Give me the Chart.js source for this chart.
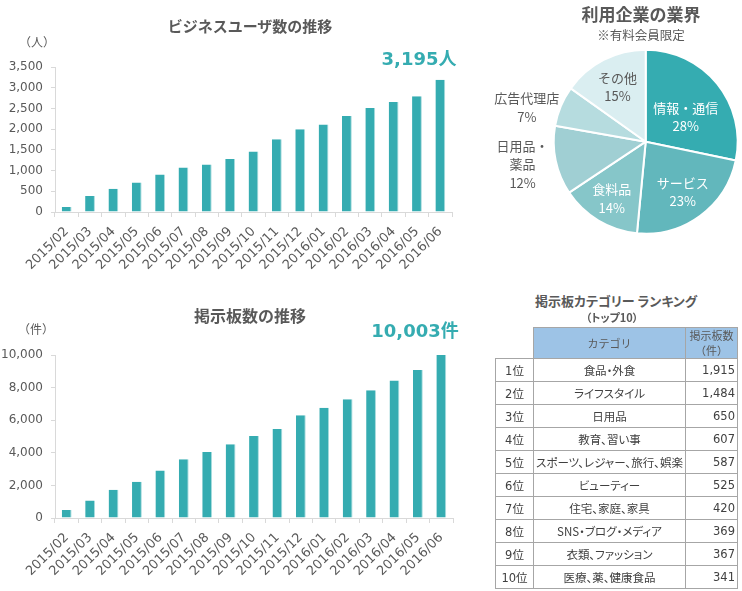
<!DOCTYPE html>
<html lang="ja">
<head>
<meta charset="utf-8">
<script src="https://cdn.jsdelivr.net/npm/chart.js@4.4.1/dist/chart.umd.min.js"></script>
<style>
body { margin: 0; background: #fff; font-family: "Noto Sans CJK JP", sans-serif; color: #595959; }
#page { position: relative; width: 742px; height: 591px; overflow: hidden; }
canvas { position: absolute; }
.txt { position: absolute; transform: translate(-50%, -50%); white-space: nowrap; line-height: 1; }
.title { font-weight: 700; color: #595959; }
.big { font-family: "DejaVu Sans", "Noto Sans CJK JP", sans-serif; font-weight: 700; font-size: 18px; color: #35acb1; }
#rank { position: absolute; left: 495px; top: 327px; border-collapse: collapse; table-layout: fixed; width: 242px;
  font-family: "DejaVu Sans", "Noto Sans CJK JP", sans-serif; color: #404040; }
#rank th, #rank td { border: 1px solid #a6a6a6; padding: 0; }
#rank th { background: #9dc3e6; height: 30px; font-weight: 400; font-size: 11px; line-height: 15px; color: #595959;
  font-family: "Noto Sans CJK JP", sans-serif; }
#rank th.blank { background: none; border: none; }
#rank td { height: 22px; font-size: 11.5px; text-align: center; }
#rank td.c { font-family: "Noto Sans CJK JP", sans-serif; font-feature-settings: "palt"; font-size: 11.5px; }
#rank td.n { text-align: right; padding-right: 2px; }
</style>
</head>
<body>
<div id="page">
  <canvas id="users" width="470" height="280" style="left:0;top:0"></canvas>
  <canvas id="boards" width="470" height="300" style="left:0;top:290px"></canvas>
  <canvas id="industry" width="272" height="250" style="left:470px;top:0"></canvas>

  <div class="txt title" style="left:250px;top:25px;font-size:15px">ビジネスユーザ数の推移</div>
  <div class="txt" style="left:37px;top:42px;font-size:12px">（人）</div>
  <div class="txt big" id="userTotal" style="left:419px;top:59px"></div>

  <div class="txt title" style="left:250px;top:315px;font-size:16px">掲示板数の推移</div>
  <div class="txt" style="left:36px;top:329px;font-size:12px">（件）</div>
  <div class="txt big" id="boardTotal" style="left:415px;top:331px"></div>

  <div class="txt title" style="left:641px;top:13px;font-size:17px">利用企業の業界</div>
  <div class="txt" style="left:641px;top:35px;font-size:12.5px">※有料会員限定</div>

  <div class="txt title" style="left:616px;top:300px;font-size:13px;font-feature-settings:'palt'">掲示板カテゴリー ランキング</div>
  <div class="txt title" style="left:612px;top:317px;font-size:11px;font-feature-settings:'palt'">（トップ10）</div>

  <table id="rank">
    <colgroup><col style="width:38px"><col style="width:152px"><col style="width:52px"></colgroup>
    <thead><tr><th class="blank"></th><th>カテゴリ</th><th>掲示板数<br>（件）</th></tr></thead>
    <tbody></tbody>
  </table>
</div>
<script>
const months = ['2015/02', '2015/03', '2015/04', '2015/05', '2015/06', '2015/07', '2015/08', '2015/09',
  '2015/10', '2015/11', '2015/12', '2016/01', '2016/02', '2016/03', '2016/04', '2016/05', '2016/06'];
const userCounts = [120, 385, 562, 715, 907, 1076, 1148, 1277, 1461, 1758, 2000, 2112, 2320, 2513, 2658, 2794, 3195];
const boardCounts = [490, 1080, 1730, 2220, 2910, 3600, 4050, 4520, 5030, 5460, 6310, 6760, 7290, 7840, 8430, 9080, 10003];

const industryNames = ['情報・通信', 'サービス', '食料品', '日用品・\n薬品', '広告代理店', 'その他'];
const industryShares = [28, 23, 14, 12, 7, 15];

const rankLabels = ['1位', '2位', '3位', '4位', '5位', '6位', '7位', '8位', '9位', '10位'];
const boardCategories = ['食品・外食', 'ライフスタイル', '日用品', '教育、習い事', 'スポーツ、レジャー、旅行、娯楽',
  'ビューティー', '住宅、家庭、家具', 'SNS・ブログ・メディア', '衣類、ファッション', '医療、薬、健康食品'];
const categoryCounts = [1915, 1484, 650, 607, 587, 525, 420, 369, 367, 341];

const teal = '#35acb1';
const axisGray = '#d9d9d9';
const tickFont = { family: 'DejaVu Sans', size: 12 };

document.getElementById('userTotal').textContent = userCounts[userCounts.length - 1].toLocaleString('en-US') + '人';
document.getElementById('boardTotal').textContent = boardCounts[boardCounts.length - 1].toLocaleString('en-US') + '件';

function barChart(id, values, max, step, pad, axisHeight) {
  return new Chart(document.getElementById(id), {
    type: 'bar',
    data: {
      labels: months,
      datasets: [{
        data: values,
        backgroundColor: teal,
        borderColor: '#a9dcde',
        borderWidth: { top: 0, right: 1, bottom: 0, left: 0 },
        borderSkipped: false,
        barPercentage: 0.42,
        categoryPercentage: 1
      }]
    },
    options: {
      responsive: false,
      animation: false,
      layout: { padding: pad },
      plugins: { legend: { display: false }, tooltip: { enabled: false } },
      scales: {
        x: {
          grid: { drawOnChartArea: false, tickLength: 5, color: axisGray, offset: true },
          border: { color: axisGray },
          ticks: { minRotation: 45, maxRotation: 45, autoSkip: false, color: '#595959',
            font: { family: 'DejaVu Sans', size: 13 }, padding: 7 },
          afterFit: s => { s.height = axisHeight; }
        },
        y: {
          min: 0,
          max: max,
          grid: { drawOnChartArea: false, tickLength: 4, color: axisGray },
          border: { color: axisGray },
          ticks: { stepSize: step, color: '#595959', font: tickFont, padding: 8 },
          afterFit: s => { s.width = 55; }
        }
      }
    }
  });
}

barChart('users', userCounts, 3500, 500, { top: 67, right: 18, left: 0, bottom: 0 }, 68);
barChart('boards', boardCounts, 10000, 2000, { top: 65, right: 17, left: 0, bottom: 0 }, 72);

// labels for the pie, placed along each slice's middle angle
const pieLabelPlugin = {
  id: 'pieLabels',
  afterDatasetsDraw(chart, args, opts) {
    const ctx = chart.ctx;
    chart.getDatasetMeta(0).data.forEach((arc, i) => {
      const mid = (arc.startAngle + arc.endAngle) / 2 + opts.shift[i] * Math.PI / 180;
      const r = arc.outerRadius * opts.radius[i];
      const x = arc.x + Math.cos(mid) * r;
      const y = arc.y + Math.sin(mid) * r;
      const lines = industryNames[i].split('\n').concat(industryShares[i] + '%');
      ctx.save();
      ctx.fillStyle = opts.colors[i];
      ctx.font = '13px "Noto Sans CJK JP"';
      ctx.textAlign = 'center';
      ctx.textBaseline = 'middle';
      const lh = opts.lineHeight;
      lines.forEach((t, k) => ctx.fillText(t, x, y + (k - (lines.length - 1) / 2) * lh));
      ctx.restore();
    });
  }
};

new Chart(document.getElementById('industry'), {
  type: 'pie',
  data: {
    labels: industryNames,
    datasets: [{
      data: industryShares,
      backgroundColor: ['#35acb1', '#62b7bc', '#86c6c9', '#a0cfd3', '#b6dcdf', '#daeef1'],
      borderColor: '#fff',
      borderWidth: 2
    }]
  },
  options: {
    responsive: false,
    animation: false,
    layout: { padding: { left: 82.7, top: 48.7, right: 3.3, bottom: 15.3 } },
    plugins: {
      legend: { display: false },
      tooltip: { enabled: false },
      pieLabels: {
        radius: [0.51, 0.68, 0.72, 1.36, 1.345, 0.67],
        shift: [7.6, 0, 0, 1.5, -6.7, 0],
        colors: ['#fff', '#fff', '#fff', '#595959', '#595959', '#595959'],
        lineHeight: 18.5
      }
    }
  },
  plugins: [pieLabelPlugin]
});

const tbody = document.querySelector('#rank tbody');
for (let i = 0; i < rankLabels.length; i++) {
  const tr = document.createElement('tr');
  tr.innerHTML = `<td>${rankLabels[i]}</td><td class="c">${boardCategories[i]}</td>` +
    `<td class="n">${categoryCounts[i].toLocaleString('en-US')}</td>`;
  tbody.appendChild(tr);
}
</script>
</body>
</html>
